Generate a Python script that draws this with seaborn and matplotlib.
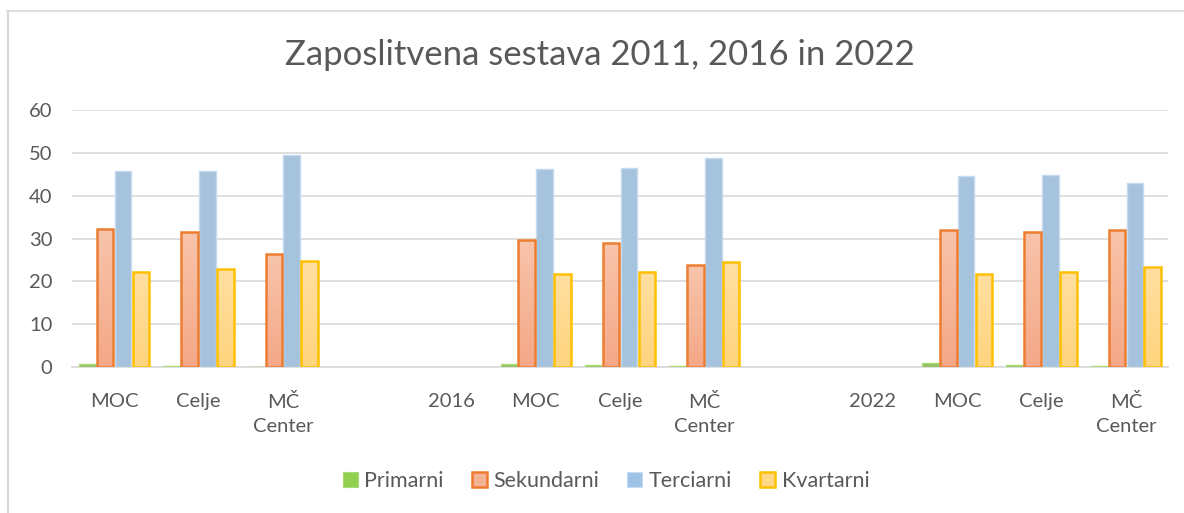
import numpy as np
import pandas as pd
import seaborn as sns
import matplotlib.pyplot as plt
from matplotlib.lines import Line2D
from matplotlib.patches import Patch

# x-axis slots (two empty spacer slots as in the original chart)
tick_labels = ["MOC", "Celje", "MČ\nCenter", "", "2016", "MOC", "Celje", "MČ\nCenter",
               "", "2022", "MOC", "Celje", "MČ\nCenter"]
data_slots = [0, 1, 2, 5, 6, 7, 10, 11, 12]

series = ["Primarni", "Sekundarni", "Terciarni", "Kvartarni"]
primarni = [0.7, 0.3, 0.0, 0.7, 0.4, 0.3, 0.85, 0.4, 0.3]
sekundarni = [32.2, 31.6, 26.3, 29.6, 28.9, 23.8, 32.0, 31.6, 31.9]
terciarni = [45.7, 45.8, 49.5, 46.2, 46.5, 48.9, 44.5, 44.8, 42.9]
kvartarni = [22.1, 22.8, 24.7, 21.8, 22.1, 24.5, 21.8, 22.2, 23.4]

slot_keys = [f"s{i}" for i in range(len(tick_labels))]

rows = []
for name, vals in zip(series, [primarni, sekundarni, terciarni, kvartarni]):
    for slot, v in zip(data_slots, vals):
        rows.append({"slot": slot_keys[slot], "sektor": name, "delez": v})
df = pd.DataFrame(rows)

fill = {"Primarni": "#92d050", "Sekundarni": "#f5b193", "Terciarni": "#9dc3e6", "Kvartarni": "#ffd98b"}
edge = {"Primarni": "#a9dc74", "Sekundarni": "#ed7d31", "Terciarni": "#c5dbf0", "Kvartarni": "#ffc000"}
grad = {"Sekundarni": ("#f8c4ab", "#f4a887"), "Kvartarni": ("#ffdfa0", "#ffd47e")}
text_col = "#595959"

sns.set_style("white")
plt.rcParams["font.family"] = ["Lato", "DejaVu Sans"]

fig = plt.figure(figsize=(11.84, 5.13), dpi=100)
ax = fig.add_axes([72 / 1184, 1 - 367 / 513, (1168 - 72) / 1184, (367 - 110) / 513])

sns.barplot(data=df, x="slot", y="delez", hue="sektor", order=slot_keys, hue_order=series,
            palette=fill, width=0.85, gap=0.08, errorbar=None, legend=False, ax=ax, zorder=3)

for cont, name in zip(ax.containers, series):
    lw = 1.8 if name in ("Sekundarni", "Kvartarni") else 1.0
    for bar in cont:
        bar.set_edgecolor(edge[name])
        bar.set_linewidth(lw)
        if name in grad:
            # vertical gradient fill, like the original chart
            x0, y0 = bar.get_x(), bar.get_y()
            w, h = bar.get_width(), bar.get_height()
            c_top, c_bot = [np.array(plt.matplotlib.colors.to_rgb(c)) for c in grad[name]]
            t = np.linspace(0, 1, 64)[:, None]
            img = (c_top * (1 - t) + c_bot * t)[:, None, :]
            im = ax.imshow(img, extent=(x0, x0 + w, y0, y0 + h), aspect="auto", zorder=3.5,
                           origin="upper")
            im.set_clip_path(bar)
            bar.set_zorder(4)
            bar.set_facecolor("none")

ax.set_aspect("auto")
ax.set_ylim(0, 60)
ax.set_xlim(-0.5, len(tick_labels) - 0.5)

ax.set_yticks(range(0, 61, 10))
ax.yaxis.grid(True, color="#d9d9d9", linewidth=1.2, zorder=0)
ax.set_axisbelow(True)
ax.set_xticks(range(len(tick_labels)))
ax.set_xticklabels(tick_labels, linespacing=1.45)
ax.tick_params(axis="both", length=0, labelsize=14.5, colors=text_col)
ax.tick_params(axis="y", pad=14)
ax.tick_params(axis="x", pad=19)
ax.set_xlabel("")
ax.set_ylabel("")
for side in ["top", "right", "left"]:
    ax.spines[side].set_visible(False)
ax.spines["bottom"].set_color("#d9d9d9")
ax.spines["bottom"].set_linewidth(1.2)

fig.text(600 / 1184, 1 - 55 / 513, "Zaposlitvena sestava 2011, 2016 in 2022",
         ha="center", va="center", fontsize=25, color=text_col)

handles = [Patch(facecolor=fill[s], edgecolor=edge[s], linewidth=1.8 if s in grad else 0.8) for s in series]
fig.legend(handles, series, loc="center", bbox_to_anchor=(606 / 1184, 1 - 481 / 513), ncol=4,
           frameon=False, fontsize=15.5, labelcolor=text_col, handlelength=0.7, handleheight=0.7,
           handletextpad=0.3, columnspacing=1.3)

# chart frame (only top and left edges visible in the reference)
fig.add_artist(Line2D([7 / 1184, 1], [1 - 11 / 513, 1 - 11 / 513], color="#d9d9d9", linewidth=1.2))
fig.add_artist(Line2D([7.5 / 1184, 7.5 / 1184], [0, 1 - 11 / 513], color="#d9d9d9", linewidth=1.5))

fig.savefig("out.png", dpi=100, facecolor="white")
